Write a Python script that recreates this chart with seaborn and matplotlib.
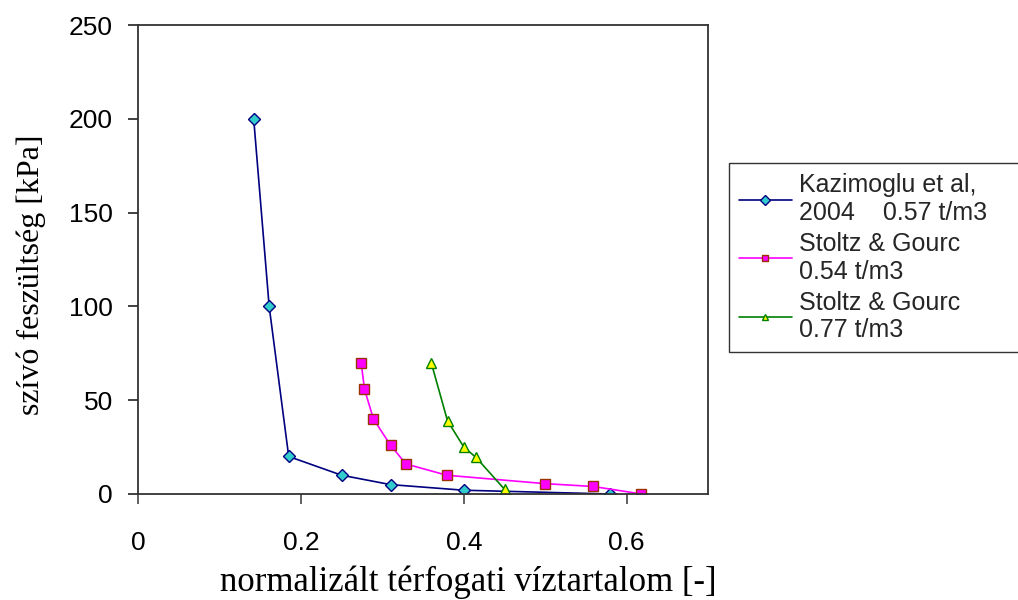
import pandas as pd
import matplotlib.pyplot as plt
import seaborn as sns

# adatok
kaz_x = [0.142, 0.161, 0.185, 0.25, 0.31, 0.40, 0.579]
kaz_y = [200, 100, 20, 10, 5, 2, 0]

sg054_x = [0.274, 0.278, 0.289, 0.31, 0.329, 0.379, 0.50, 0.559, 0.618]
sg054_y = [70, 56, 40, 26, 16, 10, 5.5, 4, 0]

sg077_x = [0.36, 0.38, 0.40, 0.415, 0.45, 0.45]
sg077_y = [70, 39, 25, 19.5, 5, 0]

labels = ["Kazimoglu et al,\n2004    0.57 t/m3",
          "Stoltz & Gourc\n0.54 t/m3",
          "Stoltz & Gourc\n0.77 t/m3"]

sns.set_theme(style="white")
plt.rcParams["font.family"] = ["Liberation Sans", "DejaVu Sans"]

fig = plt.figure(figsize=(10.18, 6.0), dpi=100)
ax = fig.add_axes([0.1356, 0.1767, 0.56, 0.7816])

stilusok = [
    (kaz_x, kaz_y, "#000080", "D", "#33CCCC", "#000080", 6),
    (sg054_x, sg054_y, "#FF00FF", "s", "#FF00FF", "#993300", 6.5),
    (sg077_x, sg077_y, "#008000", "^", "#FFFF00", "#008000", 7),
]

for (xs, ys, szin, mk, mfc, mec, ms), lab in zip(stilusok, labels):
    df = pd.DataFrame({"x": xs, "y": ys})
    sns.lineplot(data=df, x="x", y="y", sort=False, color=szin, linewidth=1.2,
                 marker=mk, markersize=ms, markerfacecolor=mfc, markeredgecolor=mec,
                 markeredgewidth=1, label=lab, ax=ax)

ax.set_xlim(0, 0.7)
ax.set_ylim(0, 250)
ax.set_xticks([0, 0.2, 0.4, 0.6])
ax.set_xticklabels(["0", "0.2", "0.4", "0.6"])
ax.set_yticks([0, 50, 100, 150, 200, 250])

for s in ax.spines.values():
    s.set_color("#333333")
    s.set_linewidth(1.3)

ax.tick_params(axis="x", direction="out", length=7, width=1.3, color="#555555",
               pad=20, labelsize=19, labelcolor="black")
ax.tick_params(axis="y", direction="out", length=7, width=1.3, color="#333333",
               pad=11, labelsize=19, labelcolor="black")
ax.tick_params(bottom=True, left=True)

ax.set_xlabel("normalizált térfogati víztartalom [-]", family="Liberation Serif",
              fontsize=25, color="black")
ax.set_ylabel("szívó feszültség [kPa]", family="Liberation Serif",
              fontsize=23, color="black")
ax.xaxis.set_label_coords(0.58, -0.152)
ax.yaxis.set_label_coords(-0.161, 0.467)

leg = ax.legend(loc="upper left", mode="expand",
                bbox_to_anchor=(729 / 1018, 1 - 363 / 600, 300 / 1018, 200 / 600),
                bbox_transform=fig.transFigure, fontsize=18, frameon=True,
                fancybox=False, edgecolor="black", handlelength=2.1,
                handletextpad=0.3, borderpad=0.4, labelspacing=0.28,
                borderaxespad=0)
leg.get_frame().set_linewidth(1.0)
for h in leg.legend_handles:
    h.set_markersize(5)

fig.savefig("out.png", dpi=100)
